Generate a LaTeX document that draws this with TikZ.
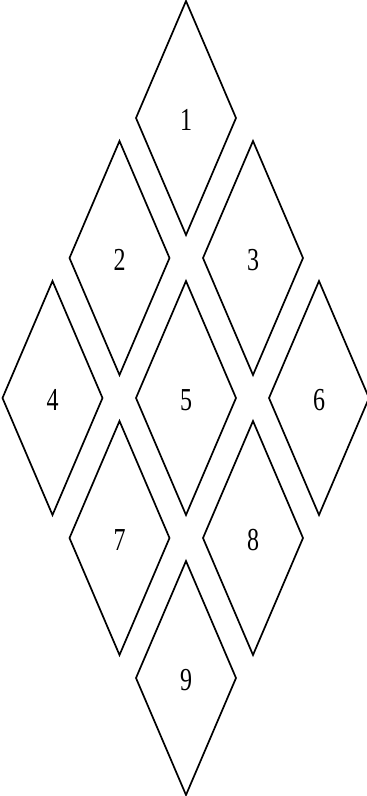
\documentclass[tikz,border=0pt]{standalone}
\usepackage{fontspec}
\setmainfont{Liberation Serif}
\begin{document}
\begin{tikzpicture}[x=1pt,y=-1pt,
  dia/.style={draw=black,line width=1.7pt,line join=miter,fill=none},
  lab/.style={font=\fontsize{32}{32}\selectfont,inner sep=0pt,xscale=0.75}]
\useasboundingbox (0,0) rectangle (367,796);
\foreach \n/\cx/\cy in {1/186/118,2/119.5/258,3/253/258,4/52.5/398,5/186/398,6/319/398,7/119.5/538,8/253/538,9/186/678}{
  \draw[dia] (\cx,\cy-117) -- (\cx+50,\cy) -- (\cx,\cy+117) -- (\cx-50,\cy) -- cycle;
  \node[lab] (d\n) at (\cx,\cy+2) {\n};
}
\end{tikzpicture}
\end{document}
